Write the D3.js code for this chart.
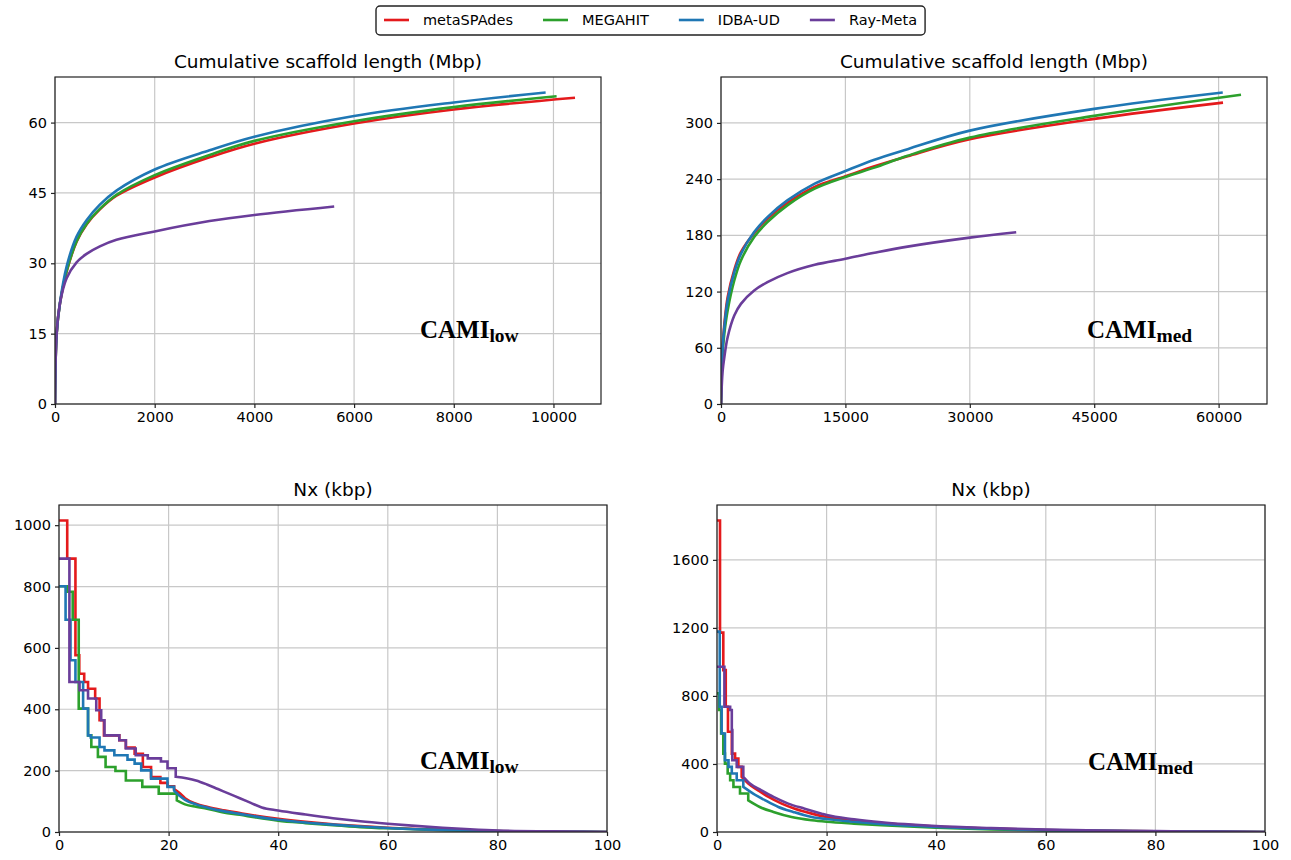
<!DOCTYPE html>
<html>
<head>
<meta charset="utf-8">
<script src="https://cdn.jsdelivr.net/npm/d3@7"></script>
<style>
  html, body { margin: 0; padding: 0; background: #fff; }
  svg { display: block; }
</style>
</head>
<body>
<svg id="chart" width="1291" height="860"></svg>
<script>
const assemblers = ["metaSPAdes", "MEGAHIT", "IDBA-UD", "Ray-Meta"];
const titles = ["Cumulative scaffold length (Mbp)", "Nx (kbp)"];

// cumulative length, CAMI low: [scaffold count, Mbp]
const cumLowSpades = [[0,0],[33,15],[100,21.5],[233,28.2],[433,34.6],[633,38.3],[900,41.5],[1233,44.4],[2000,48.3],[3100,52.6],[4000,55.5],[6000,59.8],[8000,62.8],[10432,65.3]];
const cumLowMegahit = [[0,0],[33,15],[100,21.5],[233,28.3],[433,34.7],[633,38.4],[900,41.6],[1233,44.6],[2000,48.8],[3100,53.1],[4000,56.1],[6000,60.3],[8000,63.3],[10063,65.6]];
const cumLowIdba = [[0,0],[33,15],[100,21.6],[233,29.3],[433,35.7],[633,39.2],[900,42.5],[1233,45.5],[2000,50],[3100,54.1],[4000,57],[6000,61.4],[8000,64.3],[9843,66.4]];
const cumLowRay = [[0,0],[33,15],[100,21.5],[233,26.8],[433,30.2],[633,32],[900,33.6],[1233,35],[2000,36.8],[3100,39],[4000,40.3],[5601,42.1]];

// cumulative length, CAMI medium
const cumMedSpades = [[0,0],[200,63],[400,85],[800,114],[1600,143.2],[2400,162.1],[4000,182.4],[5600,197.7],[8000,214.5],[11300,231.6],[15000,243],[18500,253.7],[22500,264.5],[30000,282.6],[45000,304.3],[60530,321.7]];
const cumMedMegahit = [[0,0],[200,55],[400,75],[800,99.8],[1600,131.8],[2400,153.2],[4000,178.2],[5600,194.2],[8000,212],[11300,229.8],[15000,242.3],[18500,252.3],[22500,265],[30000,284.3],[45000,307.5],[62700,330]];
const cumMedIdba = [[0,0],[200,60.6],[400,82],[800,110.5],[1600,140.7],[2400,160.3],[4000,183.5],[5600,199.5],[8000,217.3],[11300,235.2],[15000,248.7],[18500,260.8],[22500,272],[30000,291.8],[45000,315],[60500,332.4]];
const cumMedRay = [[0,0],[200,35.6],[400,49.9],[800,71.3],[1600,94.4],[2400,106.9],[4000,121.1],[5600,130],[8000,139.7],[11300,148.6],[15000,155],[18500,161.4],[22500,168],[30000,177.6],[35595,183.3]];

// Nx, CAMI low: [x %, kbp]
const nxLowSpades = [[0,1015],[1.5,891],[3.0,576],[3.7,516],[4.6,489],[5.3,467],[6.6,435],[7.4,364],[8.2,315],[11.0,299],[12.2,275],[13.8,255],[15.3,212],[16.8,179],[18.5,160],[19.8,149],[21,140],[22,127],[23,110],[25,92],[27,82],[30,71],[33,62],[36,53],[40,43],[45,33],[50,25],[55,19],[60,14],[65,10],[70,7.6],[75,5],[80,3],[90,1],[100,0]];
const nxLowMegahit = [[0,801],[1.5,783],[2.5,692],[3.6,402],[5.3,315],[5.9,277],[7.1,245],[8.5,212],[10.3,199],[12.2,168],[15.2,147],[18.2,125],[21.5,103],[23,90],[25,82],[27,76],[30,64],[33,56],[36,47],[40,37],[45,29],[50,22],[55,16],[60,12],[65,9],[70,6],[75,4],[80,2.5],[90,1],[100,0]];
const nxLowIdba = [[0,801],[1.2,692],[2.1,560],[3.0,489],[4.4,402],[5.3,315],[5.8,308],[7.4,277],[8.3,266],[10.1,250],[12.5,236],[13.8,223],[15,201],[16.8,174],[19.8,147],[21,135],[22,118],[23,105],[25,90],[27,80],[30,68],[33,59],[36,50],[40,40],[45,31],[50,24],[55,18],[60,13],[65,9],[70,7],[75,5],[80,3],[90,1],[100,0]];
const nxLowRay = [[0,891],[1.9,489],[3.75,462],[5.3,435],[6.8,397],[7.7,364],[8.3,315],[11.0,299],[12.2,272],[14,250],[16.2,240],[18.6,230],[19.8,208],[21.3,180],[25,168],[27,155],[29,140],[31,125],[33,110],[35,95],[37,80],[40,70],[45,57],[50,45],[55,35],[60,27],[65,20],[70,14],[75,9],[80,5],[90,2],[100,0]];

// Nx, CAMI medium
const nxMedSpades = [[0,1831],[0.55,1172],[1.15,952],[1.6,736],[2.0,589],[2.7,461],[3.3,432],[3.9,383],[4.5,324],[5.7,285],[7.5,245],[9.4,206],[11.8,167],[14.2,137],[17.3,108],[20,88],[25,68],[30,52],[40,32],[50,20],[60,12],[70,7],[80,4],[90,2],[100,0]];
const nxMedMegahit = [[0,815],[0.4,717],[0.75,579],[1.15,461],[1.45,402],[1.95,344],[2.4,304],[3.0,265],[4.2,226],[5.7,186],[7.8,147],[10.3,118],[13.6,88],[17.3,69],[20,60],[25,49],[30,40],[40,25],[50,15],[60,9],[70,5],[80,3],[90,1],[100,0]];
const nxMedIdba = [[0,1178],[0.5,736],[0.85,579],[1.45,422],[2.1,383],[2.7,344],[3.6,304],[4.8,265],[6.6,226],[8.8,186],[11.2,147],[13.9,118],[17.3,88],[20,76],[25,60],[30,47],[40,30],[50,19],[60,11],[70,7],[80,4],[90,2],[100,0]];
const nxMedRay = [[0,972],[1.35,736],[2.4,717],[2.7,599],[2.8,422],[3.6,383],[4.8,324],[6.0,285],[8.1,245],[10.3,206],[13,167],[16,137],[19.1,108],[20,100],[25,75],[30,57],[40,35],[50,23],[60,14],[70,8],[80,5],[90,2],[100,0]];

const cumLowXTicks = [0, 2000, 4000, 6000, 8000, 10000];
const cumLowYTicks = [0, 15, 30, 45, 60];
const cumMedXTicks = [0, 15000, 30000, 45000, 60000];
const cumMedYTicks = [0, 60, 120, 180, 240, 300];
const nxXTicks = [0, 20, 40, 60, 80, 100];
const nxLowYTicks = [0, 200, 400, 600, 800, 1000];
const nxMedYTicks = [0, 400, 800, 1200, 1600];

const colors = ["#e41a1c", "#2ca02c", "#1f77b4", "#6a3d9a"];

const svg = d3.select("#chart");
const FONT = '"DejaVu Sans", sans-serif';

// step: null for smooth curves, else x beyond which the staircase is fine enough to draw smooth
const panels = [
  { series: [cumLowSpades, cumLowMegahit, cumLowIdba, cumLowRay], xTicks: cumLowXTicks, yTicks: cumLowYTicks,
    box: { l: 55, t: 77, r: 601, b: 404 }, title: titles[0], tag: "low", tagAt: [365, 66], step: null },
  { series: [cumMedSpades, cumMedMegahit, cumMedIdba, cumMedRay], xTicks: cumMedXTicks, yTicks: cumMedYTicks,
    box: { l: 721, t: 77, r: 1267, b: 404 }, title: titles[0], tag: "med", tagAt: [366, 66], step: null },
  { series: [nxLowSpades, nxLowMegahit, nxLowIdba, nxLowRay], xTicks: nxXTicks, yTicks: nxLowYTicks,
    box: { l: 59, t: 505, r: 607, b: 832 }, title: titles[1], tag: "low", tagAt: [361, 63], step: 20 },
  { series: [nxMedSpades, nxMedMegahit, nxMedIdba, nxMedRay], xTicks: nxXTicks, yTicks: nxMedYTicks,
    box: { l: 717, t: 505, r: 1265, b: 832 }, title: titles[1], tag: "med", tagAt: [371, 62], step: 4.5 }
];

panels.forEach((p, i) => {
  const all = p.series.flat();
  // matplotlib-like autoscale: 5% headroom, lower bound pinned at 0
  const xMax = p.step != null ? 100 : d3.max(all, d => d[0]) * 1.05;
  const yMax = d3.max(all, d => d[1]) * 1.05;
  const x = d3.scaleLinear().domain([0, xMax]).range([p.box.l, p.box.r]);
  const y = d3.scaleLinear().domain([0, yMax]).range([p.box.b, p.box.t]);
  const g = svg.append("g");

  // grid
  g.append("g").selectAll("line").data(p.xTicks).join("line")
    .attr("x1", d => x(d)).attr("x2", d => x(d))
    .attr("y1", p.box.t).attr("y2", p.box.b)
    .attr("stroke", "#c8c8c8").attr("stroke-width", 1.2);
  g.append("g").selectAll("line").data(p.yTicks).join("line")
    .attr("x1", p.box.l).attr("x2", p.box.r)
    .attr("y1", d => y(d)).attr("y2", d => y(d))
    .attr("stroke", "#c8c8c8").attr("stroke-width", 1.2);

  // lines
  const clipId = "clip" + i;
  svg.append("clipPath").attr("id", clipId).append("rect")
    .attr("x", p.box.l).attr("y", p.box.t)
    .attr("width", p.box.r - p.box.l).attr("height", p.box.b - p.box.t);
  const smooth = d3.line().x(d => x(d[0])).y(d => y(d[1]))
    .curve(p.step != null ? d3.curveMonotoneX : d3.curveCatmullRom.alpha(0.5));
  const stairs = d3.line().x(d => x(d[0])).y(d => y(d[1])).curve(d3.curveStepAfter);
  const pathFor = s => {
    if (p.step == null) return smooth(s);
    const k = s.findIndex(d => d[0] >= p.step);
    return stairs(s.slice(0, k + 1)) + smooth(s.slice(k)).replace(/^M/, "L");
  };
  g.append("g").attr("clip-path", `url(#${clipId})`)
    .selectAll("path").data(p.series).join("path")
    .attr("d", pathFor)
    .attr("fill", "none")
    .attr("stroke", (d, k) => colors[k])
    .attr("stroke-width", 2.6);

  // axes
  const xAxis = d3.axisBottom(x).tickValues(p.xTicks).tickSize(4).tickPadding(4).tickFormat(d3.format("d"));
  const yAxis = d3.axisLeft(y).tickValues(p.yTicks).tickSize(4).tickPadding(4).tickFormat(d3.format("d"));
  const gx = g.append("g").attr("transform", `translate(0,${p.box.b})`).call(xAxis);
  const gy = g.append("g").attr("transform", `translate(${p.box.l},0)`).call(yAxis);
  [gx, gy].forEach(a => {
    a.select(".domain").remove();
    a.selectAll(".tick line").attr("stroke", "#222").attr("stroke-width", 1.2);
    a.selectAll(".tick text").attr("font-family", FONT).attr("font-size", "14.5px").attr("fill", "#000");
  });

  // frame
  g.append("rect")
    .attr("x", p.box.l).attr("y", p.box.t)
    .attr("width", p.box.r - p.box.l).attr("height", p.box.b - p.box.t)
    .attr("fill", "none").attr("stroke", "#222").attr("stroke-width", 1.2);

  // title
  g.append("text")
    .attr("x", (p.box.l + p.box.r) / 2).attr("y", p.box.t - 9)
    .attr("text-anchor", "middle")
    .attr("font-family", FONT).attr("font-size", "18.5px")
    .text(p.title);

  // dataset tag
  const tag = g.append("text")
    .attr("x", p.box.l + p.tagAt[0]).attr("y", p.box.b - p.tagAt[1])
    .attr("font-family", '"Liberation Serif", "Times New Roman", serif')
    .attr("font-weight", "bold");
  tag.append("tspan").attr("font-size", "25px").text("CAMI");
  tag.append("tspan").attr("font-size", "19.5px").attr("dy", 4).text(p.tag);
});

// legend
const legend = svg.append("g");
const box = legend.append("rect")
  .attr("y", 6).attr("height", 29).attr("rx", 4)
  .attr("fill", "#fff").attr("stroke", "#222").attr("stroke-width", 1.4);
let lx = 384;
assemblers.forEach((name, k) => {
  legend.append("line")
    .attr("x1", lx).attr("x2", lx + 25).attr("y1", 20).attr("y2", 20)
    .attr("stroke", colors[k]).attr("stroke-width", 2.6);
  const t = legend.append("text")
    .attr("x", lx + 39).attr("y", 25)
    .attr("font-family", FONT).attr("font-size", "14.5px")
    .text(name);
  lx += 39 + t.node().getComputedTextLength() + 30;
});
box.attr("x", 376).attr("width", lx - 30 + 8 - 376);
</script>
</body>
</html>
